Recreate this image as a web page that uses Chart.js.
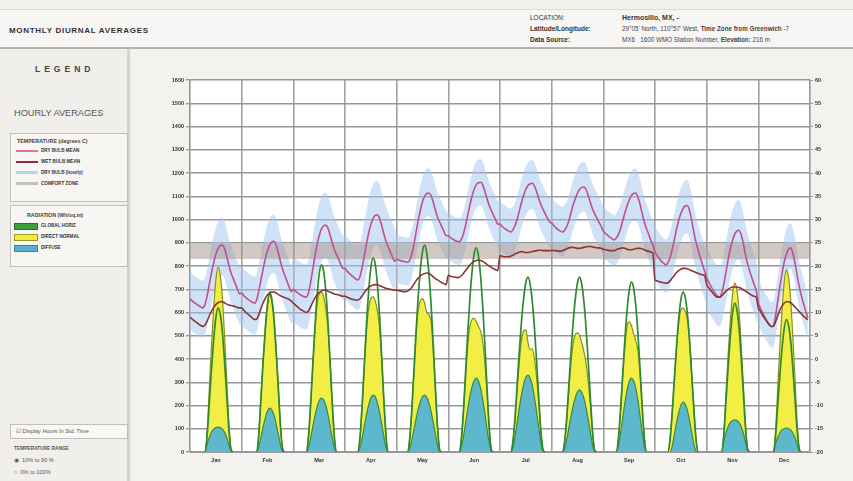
<!DOCTYPE html>
<html><head><meta charset="utf-8">
<script src="https://cdn.jsdelivr.net/npm/chart.js@4.4.1/dist/chart.umd.min.js"></script>
<style>
body{margin:0;width:853px;height:481px;background:#f3f1ee;font-family:"Liberation Sans",Arial,sans-serif;position:relative;overflow:hidden;color:#333}
.a{position:absolute;white-space:nowrap}
#header{position:absolute;left:0;top:9px;width:853px;height:37px;background:#f7f6f4;border-top:1px solid #dedbd7;border-bottom:2px solid #b5b2ad}
#left{position:absolute;left:0;top:49px;width:127px;height:432px;background:#f1efec;border-right:3px solid #d6d3ce}
.box{position:absolute;left:10px;width:116px;border:1px solid #c2bfba;background:#f7f6f3}
.sw{position:absolute;left:5px;width:22px}
.it{position:absolute;left:30px;font-size:4.6px;font-weight:bold;color:#333}
.hb{font-weight:bold}
</style></head>
<body>
<div id="header">
  <div class="a" style="left:9px;top:16px;font-size:8px;font-weight:bold;letter-spacing:0.7px;color:#333">MONTHLY DIURNAL AVERAGES</div>
  <div class="a" style="left:530px;top:4px;font-size:6.5px;color:#333">LOCATION:</div>
  <div class="a" style="left:530px;top:15px;font-size:6.5px;font-weight:bold;color:#333">Latitude/Longitude:</div>
  <div class="a" style="left:530px;top:26px;font-size:6.5px;font-weight:bold;color:#333">Data Source:</div>
  <div class="a" style="left:622px;top:4px;font-size:7px;font-weight:bold;color:#333">Hermosillo, MX, -</div>
  <div class="a" style="left:622px;top:15px;font-size:6.3px;color:#444">29°05' North, 110°57' West, <span class="hb">Time Zone from Greenwich</span> -7</div>
  <div class="a" style="left:622px;top:26px;font-size:6.3px;color:#444">MX6 &nbsp; 1600 WMO Station Number, <span class="hb">Elevation:</span> 216 m</div>
</div>
<div id="left">
  <div class="a" style="left:35px;top:15px;font-size:8.5px;font-weight:bold;letter-spacing:4px;color:#444">LEGEND</div>
  <div class="a" style="left:14px;top:59px;font-size:9.2px;color:#555">HOURLY AVERAGES</div>
  <div class="box" style="top:84px;height:67px">
    <div class="a" style="left:6px;top:4px;font-size:5.3px;font-weight:bold;color:#444">TEMPERATURE (degrees C)</div>
    <div class="sw" style="top:16px;height:2px;background:#e4709f"></div><div class="it" style="top:14px">DRY BULB MEAN</div>
    <div class="sw" style="top:27px;height:2px;background:#a0263c"></div><div class="it" style="top:25px">WET BULB MEAN</div>
    <div class="sw" style="top:37px;height:3px;background:#b7d2ef"></div><div class="it" style="top:36px">DRY BULB (hourly)</div>
    <div class="sw" style="top:48px;height:3px;background:#c3c0bd"></div><div class="it" style="top:47px">COMFORT ZONE</div>
  </div>
  <div class="box" style="top:156px;height:60px">
    <div class="a" style="left:16px;top:6px;font-size:5.3px;font-weight:bold;color:#444">RADIATION (Wh/sq.m)</div>
    <div class="sw" style="left:3px;top:17px;height:5px;background:#3f9f3f;border:1px solid #2c6e2c;width:22px"></div><div class="it" style="top:17px">GLOBAL HORIZ</div>
    <div class="sw" style="left:3px;top:28px;height:5px;background:#efec3c;border:1px solid #9a9a2a;width:22px"></div><div class="it" style="top:28px">DIRECT NORMAL</div>
    <div class="sw" style="left:3px;top:39px;height:5px;background:#5aaed0;border:1px solid #3b7f9a;width:22px"></div><div class="it" style="top:39px">DIFFUSE</div>
  </div>
  <div class="box" style="top:375px;height:13px;background:#f9f8f6">
    <div class="a" style="left:5px;top:3px;font-size:5.6px;color:#555">&#9745; Display Hours In Std. Time</div>
  </div>
  <div class="a" style="left:14px;top:397px;font-size:4.8px;font-weight:bold;color:#555">TEMPERATURE RANGE</div>
  <div class="a" style="left:14px;top:408px;font-size:5.6px;color:#555">&#9673; &nbsp;10% to 90 %</div>
  <div class="a" style="left:14px;top:420px;font-size:5.6px;color:#555">&#9675; &nbsp;0% to 100%</div>
</div>
<div class="a" style="left:172px;top:66px;font-size:5.3px;color:#333">Radiation</div>
<div class="a" style="left:786px;top:67px;font-size:5.3px;color:#333">Temperature</div>
<canvas id="c" width="719" height="431" style="position:absolute;left:134px;top:50px"></canvas>
<script>
const months = ['Jan','Feb','Mar','Apr','May','Jun','Jul','Aug','Sep','Oct','Nov','Dec'];
const radiationTicks = [0,100,200,300,400,500,600,700,800,900,1000,1100,1200,1300,1400,1500,1600];
const temperatureTicks = [-20,-15,-10,-5,0,5,10,15,20,25,30,35,40,45,50,55,60];
const comfortZone = [21.5, 24.8];

// hourly averages (hours 0..23) for each month, degrees C
const dryBulbMean = [
[13.0,12.5,12.1,11.8,11.5,11.2,11.0,11.8,13.7,16.1,18.6,20.7,22.5,23.7,24.4,24.5,23.8,22.2,20.3,18.6,17.4,16.2,15.1,14.0],
[14.2,13.6,13.2,12.8,12.5,12.2,12.0,12.8,14.7,17.1,19.4,21.6,23.3,24.5,25.2,25.3,24.5,22.9,21.0,19.3,18.0,16.8,15.6,14.5],
[15.0,14.6,14.2,13.9,13.6,13.4,13.3,14.2,16.4,19.2,22.0,24.5,26.5,27.9,28.6,28.8,28.2,26.8,25.1,23.6,22.5,21.5,20.4,19.5],
[19.5,18.9,18.4,18.0,17.6,17.2,17.0,17.8,19.8,22.3,24.8,27.1,28.9,30.2,30.9,31.0,30.3,28.8,27.0,25.4,24.2,23.1,22.0,21.0],
[21.5,21.3,21.1,21.0,20.9,20.8,21.2,22.5,24.6,27.2,29.8,32.0,33.8,35.0,35.6,35.7,35.1,33.7,32.0,30.5,29.4,28.4,27.4,26.5],
[26.5,26.1,25.8,25.5,25.3,25.2,25.7,26.9,28.7,30.9,33.1,35.0,36.5,37.5,37.9,38.0,37.4,36.0,34.4,33.0,31.9,30.9,29.9,29.0],
[29.0,28.5,28.1,27.8,27.5,27.3,27.8,28.7,30.1,31.9,33.7,35.2,36.5,37.3,37.7,37.8,37.2,36.0,34.5,33.2,32.2,31.2,30.3,29.5],
[29.2,28.7,28.2,27.8,27.5,27.3,27.7,28.5,29.8,31.5,33.2,34.5,35.7,36.5,36.9,37.0,36.4,35.1,33.6,32.2,31.2,30.3,29.4,28.5],
[27.5,27.0,26.6,26.2,25.9,25.6,26.0,26.8,28.0,29.7,31.4,32.9,34.2,35.1,35.6,35.7,34.9,33.4,31.4,29.5,28.1,26.9,25.6,24.5],
[23.0,22.2,21.6,21.0,20.6,20.2,20.7,21.8,23.6,25.7,27.9,29.8,31.3,32.3,32.9,33.0,32.0,29.9,27.4,25.2,23.5,21.9,20.4,19.0],
[17.5,16.5,15.6,14.8,14.1,13.5,13.3,14.2,16.2,18.8,21.4,23.7,25.5,26.8,27.5,27.7,26.8,24.9,22.5,20.5,18.9,17.5,16.1,14.8],
[12.0,10.9,9.9,9.0,8.2,7.5,7.0,7.2,9.3,12.4,15.5,18.3,20.8,22.5,23.6,23.9,22.8,20.7,18.0,15.6,13.6,11.9,10.3,8.8]
];
const wetBulbMean = [
[9.0,8.6,8.2,7.9,7.5,7.2,7.0,7.3,8.2,9.3,10.3,11.1,11.7,12.1,12.3,12.3,12.1,11.8,11.6,11.5,11.4,11.3,11.1,11.0],
[11.0,10.5,10.0,9.6,9.2,8.8,8.5,8.6,9.6,10.9,12.1,13.1,13.8,14.2,14.4,14.4,14.2,13.9,13.6,13.4,13.2,13.0,12.8,12.5],
[12.0,11.6,11.2,10.8,10.5,10.2,10.0,10.3,11.2,12.2,13.1,13.8,14.3,14.6,14.8,14.8,14.6,14.4,14.2,14.0,13.9,13.8,13.6,13.5],
[13.5,13.3,13.1,12.9,12.8,12.7,12.7,13.0,13.6,14.3,14.9,15.4,15.7,15.9,16.0,16.0,15.8,15.6,15.4,15.2,15.1,15.0,14.9,14.8],
[14.8,14.7,14.6,14.5,14.5,14.6,14.9,15.4,16.1,16.8,17.4,17.9,18.2,18.4,18.5,18.4,18.1,17.7,17.3,17.0,16.7,16.4,16.2,16.0],
[18.0,17.8,17.7,17.6,17.5,17.6,17.9,18.4,19.0,19.6,20.2,20.7,21.0,21.2,21.3,21.2,21.0,20.7,20.3,20.0,19.7,19.4,19.2,19.0],
[22.2,22.1,22.0,22.0,22.0,22.1,22.3,22.6,22.8,23.0,23.1,23.0,22.9,22.9,23.0,23.1,23.2,23.3,23.4,23.4,23.3,23.3,23.3,23.3],
[23.4,23.3,23.3,23.2,23.2,23.3,23.5,23.7,23.9,24.0,24.0,23.9,23.8,23.8,23.9,24.0,24.1,24.2,24.2,24.1,24.0,23.9,23.9,23.8],
[23.6,23.5,23.4,23.3,23.3,23.3,23.5,23.7,23.8,23.9,23.8,23.6,23.5,23.5,23.6,23.7,23.8,23.8,23.7,23.5,23.3,23.2,23.0,22.8],
[17.0,16.8,16.6,16.5,16.4,16.3,16.4,16.8,17.4,18.0,18.6,19.0,19.3,19.5,19.5,19.4,19.2,19.0,18.8,18.6,18.4,18.3,18.1,18.0],
[16.0,15.3,14.7,14.1,13.6,13.3,13.3,13.6,14.1,14.6,15.0,15.3,15.5,15.5,15.5,15.4,15.2,14.9,14.6,14.3,14.0,13.7,13.5,13.3],
[11.0,10.2,9.4,8.7,8.0,7.4,7.0,7.0,8.0,9.3,10.5,11.4,12.0,12.3,12.3,12.1,11.7,11.2,10.7,10.2,9.7,9.2,8.8,8.4]
];
const dryBulbHigh = [
[18.8,18.3,17.9,17.6,17.3,17.0,16.8,17.6,19.5,21.9,24.4,26.5,28.3,29.5,30.2,30.3,29.6,28.0,26.1,24.4,23.2,22.0,20.9,19.8],
[19.9,19.3,18.9,18.5,18.2,17.9,17.7,18.5,20.4,22.8,25.1,27.3,29.0,30.2,30.9,31.0,30.2,28.6,26.7,25.0,23.7,22.5,21.3,20.2],
[22.0,21.6,21.2,20.9,20.6,20.4,20.3,21.2,23.4,26.2,29.0,31.5,33.5,34.9,35.6,35.8,35.2,33.8,32.1,30.6,29.5,28.5,27.4,26.5],
[26.8,26.2,25.7,25.3,24.9,24.5,24.3,25.1,27.1,29.6,32.1,34.4,36.2,37.5,38.2,38.3,37.6,36.1,34.3,32.7,31.5,30.4,29.3,28.3],
[26.8,26.6,26.4,26.3,26.2,26.1,26.5,27.8,29.9,32.5,35.1,37.3,39.1,40.3,40.9,41.0,40.4,39.0,37.3,35.8,34.7,33.7,32.7,31.8],
[31.5,31.1,30.8,30.5,30.3,30.2,30.7,31.9,33.7,35.9,38.1,40.0,41.5,42.5,42.9,43.0,42.4,41.0,39.4,38.0,36.9,35.9,34.9,34.0],
[34.0,33.5,33.1,32.8,32.5,32.3,32.8,33.7,35.1,36.9,38.7,40.2,41.5,42.3,42.7,42.8,42.2,41.0,39.5,38.2,37.2,36.2,35.3,34.5],
[34.6,34.1,33.6,33.2,32.9,32.7,33.1,33.9,35.2,36.9,38.6,39.9,41.1,41.9,42.3,42.4,41.8,40.5,39.0,37.6,36.6,35.7,34.8,33.9],
[32.8,32.3,31.9,31.5,31.2,30.9,31.3,32.1,33.3,35.0,36.7,38.2,39.5,40.4,40.9,41.0,40.2,38.7,36.7,34.8,33.4,32.2,30.9,29.8],
[28.5,27.7,27.1,26.5,26.1,25.7,26.2,27.3,29.1,31.2,33.4,35.3,36.8,37.8,38.4,38.5,37.5,35.4,32.9,30.7,29.0,27.4,25.9,24.5],
[24.0,23.0,22.1,21.3,20.6,20.0,19.8,20.7,22.7,25.3,27.9,30.2,32.0,33.3,34.0,34.2,33.3,31.4,29.0,27.0,25.4,24.0,22.6,21.3],
[17.3,16.2,15.2,14.3,13.5,12.8,12.3,12.5,14.6,17.7,20.8,23.6,26.1,27.8,28.9,29.2,28.1,26.0,23.3,20.9,18.9,17.2,15.6,14.1]
];
const dryBulbLow = [
[6.5,6.0,5.6,5.3,5.0,4.7,4.5,5.3,7.2,9.6,12.1,14.2,16.0,17.2,17.9,18.0,17.3,15.7,13.8,12.1,10.9,9.7,8.6,7.5],
[7.4,6.8,6.4,6.0,5.7,5.4,5.2,6.0,7.9,10.3,12.6,14.8,16.5,17.7,18.4,18.5,17.7,16.1,14.2,12.5,11.2,10.0,8.8,7.7],
[8.0,7.6,7.2,6.9,6.6,6.4,6.3,7.2,9.4,12.2,15.0,17.5,19.5,20.9,21.6,21.8,21.2,19.8,18.1,16.6,15.5,14.5,13.4,12.5],
[13.0,12.4,11.9,11.5,11.1,10.7,10.5,11.3,13.3,15.8,18.3,20.6,22.4,23.7,24.4,24.5,23.8,22.3,20.5,18.9,17.7,16.6,15.5,14.5],
[16.5,16.3,16.1,16.0,15.9,15.8,16.2,17.5,19.6,22.2,24.8,27.0,28.8,30.0,30.6,30.7,30.1,28.7,27.0,25.5,24.4,23.4,22.4,21.5],
[21.5,21.1,20.8,20.5,20.3,20.2,20.7,21.9,23.7,25.9,28.1,30.0,31.5,32.5,32.9,33.0,32.4,31.0,29.4,28.0,26.9,25.9,24.9,24.0],
[23.5,23.0,22.6,22.3,22.0,21.8,22.3,23.2,24.6,26.4,28.2,29.7,31.0,31.8,32.2,32.3,31.7,30.5,29.0,27.7,26.7,25.7,24.8,24.0],
[23.9,23.4,22.9,22.5,22.2,22.0,22.4,23.2,24.5,26.2,27.9,29.2,30.4,31.2,31.6,31.7,31.1,29.8,28.3,26.9,25.9,25.0,24.1,23.2],
[21.9,21.4,21.0,20.6,20.3,20.0,20.4,21.2,22.4,24.1,25.8,27.3,28.6,29.5,30.0,30.1,29.3,27.8,25.8,23.9,22.5,21.3,20.0,18.9],
[17.0,16.2,15.6,15.0,14.6,14.2,14.7,15.8,17.6,19.7,21.9,23.8,25.3,26.3,26.9,27.0,26.0,23.9,21.4,19.2,17.5,15.9,14.4,13.0],
[11.2,10.2,9.3,8.5,7.8,7.2,7.0,7.9,9.9,12.5,15.1,17.4,19.2,20.5,21.2,21.4,20.5,18.6,16.2,14.2,12.6,11.2,9.8,8.5],
[7.5,6.4,5.4,4.5,3.7,3.0,2.5,2.7,4.8,7.9,11.0,13.8,16.3,18.0,19.1,19.4,18.3,16.2,13.5,11.1,9.1,7.4,5.8,4.3]
];
// hourly radiation, Wh/sq.m
const globalHoriz = [
[0,0,0,0,0,0,0,0,74,217,360,484,577,620,595,521,397,254,105,12,0,0,0,0],
[0,0,0,0,0,0,0,0,82,238,394,530,632,680,653,571,435,279,116,14,0,0,0,0],
[0,0,0,0,0,0,0,64,201,370,531,668,765,805,781,700,572,403,225,72,0,0,0,0],
[0,0,0,0,0,0,0,67,209,384,551,693,793,835,810,726,593,418,234,75,0,0,0,0],
[0,0,0,0,0,0,53,178,347,516,668,783,863,890,854,765,632,463,276,107,9,0,0,0],
[0,0,0,0,0,0,53,176,342,509,659,773,852,878,843,755,623,457,272,105,9,0,0,0],
[0,0,0,0,0,0,45,150,293,436,564,662,729,752,722,647,534,391,233,90,8,0,0,0],
[0,0,0,0,0,0,44,148,290,432,560,660,728,752,720,645,530,388,230,88,7,0,0,0],
[0,0,0,0,0,0,0,58,183,336,482,607,694,731,709,636,519,366,205,66,0,0,0,0],
[0,0,0,0,0,0,0,55,172,316,454,571,654,688,667,599,488,344,193,62,0,0,0,0],
[0,0,0,0,0,0,0,0,77,224,371,499,595,640,614,538,410,262,109,13,0,0,0,0],
[0,0,0,0,0,0,0,0,68,200,331,445,530,570,547,479,365,234,97,11,0,0,0,0]
];
const directNormal = [
[0,0,0,0,0,0,0,0,95,278,461,620,739,795,763,668,509,326,135,16,0,0,0,0],
[0,0,0,0,0,0,0,0,83,242,400,538,642,690,662,580,442,283,117,14,0,0,0,0],
[0,0,0,0,0,0,0,60,195,360,515,630,680,688,670,620,540,395,220,70,0,0,0,0],
[0,0,0,0,0,0,0,62,200,370,520,620,660,667,650,610,540,405,228,72,0,0,0,0],
[0,0,0,0,0,0,45,170,335,500,610,650,660,640,600,590,560,430,265,100,8,0,0,0],
[0,0,0,0,0,0,45,165,320,455,540,570,576,560,540,520,470,380,250,100,8,0,0,0],
[0,0,0,0,0,0,40,140,270,390,480,520,525,470,440,445,400,320,210,85,7,0,0,0],
[0,0,0,0,0,0,38,135,265,385,470,505,512,500,470,430,380,300,200,80,6,0,0,0],
[0,0,0,0,0,0,0,55,175,320,450,540,560,545,510,480,440,340,195,62,0,0,0,0],
[0,0,0,0,0,0,0,52,168,310,445,555,610,620,605,570,480,340,190,60,0,0,0,0],
[0,0,0,0,0,0,0,0,87,254,422,567,676,727,698,611,465,298,124,15,0,0,0,0],
[0,0,0,0,0,0,0,0,94,274,454,611,728,783,752,658,501,321,133,16,0,0,0,0]
];
const diffuse = [
[0,0,0,0,0,0,0,0,37,64,86,98,105,107,105,98,86,64,34,5,0,0,0,0],
[0,0,0,0,0,0,0,0,23,66,110,147,176,189,181,159,121,77,32,4,0,0,0,0],
[0,0,0,0,0,0,0,19,58,107,153,193,220,232,225,202,165,116,65,21,0,0,0,0],
[0,0,0,0,0,0,0,20,61,113,162,203,233,245,238,213,174,123,69,22,0,0,0,0],
[0,0,0,0,0,0,15,49,96,142,184,216,238,245,235,211,174,127,76,29,2,0,0,0],
[0,0,0,0,0,0,19,64,124,184,239,280,308,318,305,273,226,165,99,38,3,0,0,0],
[0,0,0,0,0,0,20,66,129,192,248,291,321,331,318,285,235,172,103,40,3,0,0,0],
[0,0,0,0,0,0,16,53,104,155,200,235,259,267,256,230,190,139,83,32,3,0,0,0],
[0,0,0,0,0,0,0,25,80,146,210,264,302,318,308,277,226,159,89,29,0,0,0,0],
[0,0,0,0,0,0,0,0,26,75,125,168,200,215,206,181,138,88,37,4,0,0,0,0],
[0,0,0,0,0,0,0,0,48,83,110,127,135,138,135,127,110,83,44,7,0,0,0,0],
[0,0,0,0,0,0,0,0,36,62,82,95,101,103,101,95,82,62,33,5,0,0,0,0]
];

const pts = rows => rows.flatMap((r, m) => r.map((v, h) => ({x: m * 24 + h, y: v})));
const hideZero = col => ({borderColor: c => (c.p0.parsed.y === 0 && c.p1.parsed.y === 0) ? 'rgba(0,0,0,0)' : col});
const base = {pointRadius: 0, cubicInterpolationMode: 'monotone', tension: 0.3};
const hours = months.length * 24;

const bgPlugin = {id: 'bg', beforeDraw(c) {
  const {ctx, chartArea: a} = c;
  ctx.save();
  ctx.fillStyle = '#f4f2ef'; ctx.fillRect(0, 0, c.width, c.height);
  ctx.fillStyle = '#ffffff'; ctx.fillRect(a.left, a.top, a.right - a.left, a.bottom - a.top);
  ctx.restore();
}};

const tickFont = {family: '"Liberation Sans", Arial, sans-serif', size: 5.5, weight: 'bold'};

new Chart(document.getElementById('c'), {
  type: 'line',
  data: {datasets: [
    {...base, label: 'dry low', data: pts(dryBulbLow), yAxisID: 'yT', borderWidth: 0, fill: false, order: 10},
    {...base, label: 'dry high', data: pts(dryBulbHigh), yAxisID: 'yT', borderWidth: 0, fill: '-1', backgroundColor: 'rgba(160,198,240,0.5)', order: 10},
    {...base, label: 'comfort low', data: [{x: 0, y: comfortZone[0]}, {x: hours, y: comfortZone[0]}], yAxisID: 'yT', borderWidth: 0, fill: false, order: 9},
    {...base, label: 'comfort high', data: [{x: 0, y: comfortZone[1]}, {x: hours, y: comfortZone[1]}], yAxisID: 'yT', borderWidth: 0, fill: '-1', backgroundColor: 'rgba(165,145,138,0.5)', order: 9},
    {...base, label: 'DIRECT NORMAL', data: pts(directNormal), yAxisID: 'yR', fill: 'origin', backgroundColor: '#f2ee46', borderColor: '#86901f', borderWidth: 1.2, segment: hideZero('#86901f'), order: 7},
    {...base, label: 'DIFFUSE', data: pts(diffuse), yAxisID: 'yR', fill: 'origin', backgroundColor: '#5db8cd', borderColor: '#3d8a3a', borderWidth: 1.2, segment: hideZero('#3d8a3a'), order: 6},
    {...base, label: 'GLOBAL HORIZ', data: pts(globalHoriz), yAxisID: 'yR', fill: false, borderColor: '#2f8a2f', borderWidth: 1.7, segment: hideZero('#2f8a2f'), order: 5},
    {...base, label: 'DRY BULB MEAN', data: pts(dryBulbMean), yAxisID: 'yT', fill: false, borderColor: '#c04f8c', borderWidth: 1.6, order: 2},
    {...base, label: 'WET BULB MEAN', data: pts(wetBulbMean), yAxisID: 'yT', fill: false, borderColor: '#8a3434', borderWidth: 1.6, order: 1}
  ]},
  options: {
    responsive: false, animation: false, devicePixelRatio: 1,
    layout: {padding: {top: 30, left: 0, right: 0, bottom: 0}},
    plugins: {legend: {display: false}, tooltip: {enabled: false}},
    scales: {
      x: {
        type: 'linear', min: 0, max: hours,
        afterFit: s => { s.height = 29; },
        afterBuildTicks: s => { s.ticks = Array.from({length: months.length * 2 + 1}, (_, i) => ({value: i * 12})); },
        ticks: {autoSkip: false, maxRotation: 0, padding: 5, font: tickFont, color: '#333',
          callback: v => (v % 24 === 12) ? months[(v - 12) / 24] : ''},
        grid: {drawTicks: false, lineWidth: 1.6, color: c => (c.tick && c.tick.value % 24 === 0) ? '#a0a0a0' : 'rgba(0,0,0,0)'},
        border: {color: '#999', width: 1}
      },
      yR: {
        position: 'left', min: 0, max: 1600,
        afterFit: s => { s.width = 56; },
        afterBuildTicks: s => { s.ticks = radiationTicks.map(v => ({value: v})); },
        ticks: {font: tickFont, color: '#333', padding: 2, callback: v => String(v)},
        grid: {color: '#979797', lineWidth: 1.4, tickLength: 4, tickColor: '#999'},
        border: {color: '#999', width: 1.2}
      },
      yT: {
        position: 'right', min: -20, max: 60,
        afterFit: s => { s.width = 43; },
        afterBuildTicks: s => { s.ticks = temperatureTicks.map(v => ({value: v})); },
        ticks: {font: tickFont, color: '#333', padding: 2, callback: v => String(v)},
        grid: {drawOnChartArea: false, tickLength: 3, tickColor: '#999'},
        border: {color: '#999', width: 1.2}
      }
    }
  },
  plugins: [bgPlugin]
});
</script>
</body></html>
